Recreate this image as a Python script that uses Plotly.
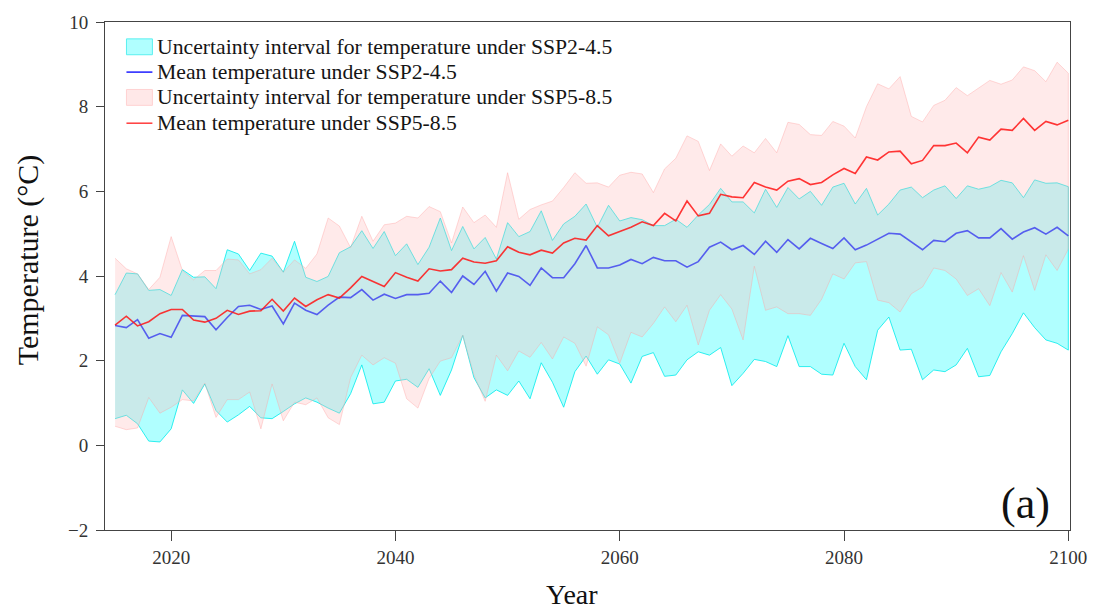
import plotly.graph_objects as go

years = list(range(2015, 2101))

ssp245_mean = [
    2.83, 2.78, 2.97, 2.53, 2.64, 2.55, 3.07, 3.06, 3.04, 2.73,
    3.02, 3.28, 3.31, 3.21, 3.29, 2.87, 3.36, 3.19, 3.09, 3.31,
    3.50, 3.49, 3.68, 3.43, 3.57, 3.47, 3.56, 3.56, 3.59, 3.88,
    3.61, 4.00, 3.80, 4.11, 3.64, 4.07, 3.99, 3.78, 4.19, 3.96,
    3.96, 4.29, 4.72, 4.19, 4.19, 4.26, 4.39, 4.29, 4.44, 4.36,
    4.36, 4.21, 4.34, 4.68, 4.80, 4.62, 4.72, 4.51, 4.82, 4.56,
    4.86, 4.64, 4.89, 4.77, 4.65, 4.90, 4.62, 4.73, 4.86, 5.01,
    4.99, 4.81, 4.62, 4.84, 4.81, 5.01, 5.07, 4.90, 4.90, 5.12,
    4.87, 5.04, 5.14, 4.99, 5.15, 4.95,
]
ssp245_upper = [
    3.56, 4.07, 4.05, 3.66, 3.68, 3.54, 4.15, 3.97, 3.98, 3.70,
    4.62, 4.52, 4.13, 4.54, 4.47, 4.09, 4.82, 3.97, 3.87, 3.99,
    4.55, 4.69, 5.07, 4.65, 5.05, 4.48, 4.76, 4.27, 4.68, 5.37,
    4.60, 5.17, 4.64, 4.91, 4.40, 5.26, 4.93, 5.05, 5.54, 4.84,
    5.23, 5.41, 5.70, 5.15, 5.67, 5.30, 5.38, 5.33, 5.19, 5.19,
    5.34, 5.15, 5.44, 5.69, 6.07, 5.75, 5.75, 5.49, 6.05, 5.62,
    6.09, 5.82, 6.00, 5.67, 6.10, 6.19, 5.70, 6.07, 5.44, 5.70,
    6.03, 6.10, 5.85, 6.03, 6.13, 5.83, 6.13, 6.05, 6.11, 6.26,
    6.20, 5.85, 6.27, 6.19, 6.20, 6.11,
]
ssp245_lower = [
    0.63, 0.71, 0.51, 0.10, 0.08, 0.39, 1.31, 0.99, 1.45, 0.82,
    0.55, 0.72, 0.92, 0.65, 0.63, 0.80, 0.98, 1.12, 1.02, 0.88,
    0.76, 1.22, 1.90, 0.98, 1.02, 1.52, 1.56, 1.37, 1.81, 1.18,
    1.78, 2.60, 1.60, 1.12, 1.31, 1.18, 1.52, 1.10, 1.95, 1.49,
    0.90, 1.74, 2.11, 1.68, 2.02, 1.92, 1.47, 2.10, 2.19, 1.63,
    1.66, 2.02, 2.21, 2.13, 2.31, 1.41, 1.70, 2.03, 1.98, 1.86,
    2.59, 1.86, 1.86, 1.68, 1.66, 2.41, 1.86, 1.55, 2.72, 3.03,
    2.25, 2.27, 1.55, 1.78, 1.74, 1.90, 2.29, 1.62, 1.65, 2.21,
    2.64, 3.13, 2.78, 2.49, 2.41, 2.25,
]
ssp585_mean = [
    2.84, 3.05, 2.82, 2.92, 3.11, 3.21, 3.21, 2.96, 2.91, 3.00,
    3.19, 3.09, 3.17, 3.18, 3.45, 3.17, 3.48, 3.28, 3.44, 3.56,
    3.48, 3.72, 3.99, 3.87, 3.75, 4.08, 3.97, 3.88, 4.17, 4.12,
    4.15, 4.42, 4.33, 4.30, 4.36, 4.69, 4.56, 4.50, 4.61, 4.54,
    4.78, 4.89, 4.85, 5.19, 4.95, 5.05, 5.15, 5.28, 5.19, 5.48,
    5.30, 5.77, 5.42, 5.48, 5.93, 5.87, 5.85, 6.21, 6.10, 6.03,
    6.24, 6.30, 6.16, 6.21, 6.39, 6.54, 6.42, 6.81, 6.74, 6.93,
    6.95, 6.65, 6.73, 7.08, 7.08, 7.14, 6.91, 7.28, 7.21, 7.47,
    7.44, 7.72, 7.44, 7.65, 7.57, 7.68,
]
ssp585_upper = [
    4.42, 4.17, 4.05, 3.68, 3.97, 4.93, 4.13, 3.91, 4.13, 4.13,
    4.40, 4.38, 4.05, 4.15, 4.42, 4.09, 4.38, 4.18, 4.52, 5.37,
    5.18, 4.67, 5.41, 4.82, 5.21, 5.25, 5.41, 5.37, 5.64, 5.52,
    4.78, 5.63, 5.26, 5.44, 5.15, 6.44, 5.34, 5.57, 5.68, 5.77,
    6.09, 6.44, 6.19, 6.20, 6.10, 6.38, 6.45, 6.41, 5.97, 6.53,
    6.78, 7.31, 7.18, 6.49, 7.12, 6.83, 7.07, 6.91, 7.25, 6.91,
    7.63, 7.58, 7.34, 7.32, 7.65, 7.54, 7.26, 8.00, 8.54, 8.42,
    8.71, 7.77, 7.64, 8.03, 8.15, 8.45, 8.26, 8.44, 8.62, 8.53,
    8.63, 8.94, 8.85, 8.59, 9.05, 8.79,
]
ssp585_lower = [
    0.45, 0.37, 0.41, 1.13, 0.76, 0.90, 1.08, 1.05, 1.47, 0.66,
    1.08, 1.08, 1.26, 0.39, 1.45, 0.58, 1.02, 0.96, 1.12, 0.65,
    0.49, 1.60, 2.13, 1.90, 2.07, 1.94, 1.10, 0.88, 1.58, 1.99,
    2.07, 2.60, 1.66, 1.04, 2.13, 1.76, 2.23, 2.08, 2.43, 2.04,
    2.56, 2.41, 1.87, 2.80, 2.61, 1.94, 2.67, 2.56, 2.88, 3.27,
    2.92, 3.31, 2.37, 3.19, 3.56, 3.22, 2.49, 4.23, 3.19, 3.27,
    3.11, 3.11, 3.07, 3.45, 4.05, 3.93, 4.31, 4.34, 3.43, 3.37,
    3.15, 3.58, 3.74, 4.19, 4.13, 3.93, 3.54, 3.70, 3.30, 4.08,
    3.62, 4.48, 3.66, 4.50, 4.13, 4.64,
]

x_ticks = [2020, 2040, 2060, 2080, 2100]
y_ticks = [-2, 0, 2, 4, 6, 8, 10]

legend_labels = [
    "Uncertainty interval for temperature under SSP2-4.5",
    "Mean temperature under SSP2-4.5",
    "Uncertainty interval for temperature under SSP5-8.5",
    "Mean temperature under SSP5-8.5",
]

FONT = "Liberation Serif, Times New Roman, serif"

# layout geometry (pixels)
W, H = 1099, 612
ML, MR, MT, MB = 105, 27, 18, 82
PW, PH = W - ML - MR, H - MT - MB


def px(xp):
    return (xp - ML) / PW


def py(yp):
    return (H - MB - yp) / PH


CYAN_FILL = "rgba(0,255,255,0.31)"
CYAN_LINE = "rgba(0,235,235,0.8)"
PINK_FILL = "rgba(255,190,190,0.32)"
PINK_LINE = "rgba(255,160,160,0.4)"
BLUE = "rgba(40,40,240,0.72)"
RED = "rgba(255,20,20,0.85)"

fig = go.Figure()
band_x = years + years[::-1]

fig.add_trace(go.Scatter(
    x=band_x, y=ssp245_upper + ssp245_lower[::-1],
    fill="toself", fillcolor=CYAN_FILL,
    line=dict(color=CYAN_LINE, width=1),
    name=legend_labels[0], mode="lines", hoverinfo="skip",
))
fig.add_trace(go.Scatter(
    x=band_x, y=ssp585_upper + ssp585_lower[::-1],
    fill="toself", fillcolor=PINK_FILL,
    line=dict(color=PINK_LINE, width=1),
    name=legend_labels[2], mode="lines", hoverinfo="skip",
))
fig.add_trace(go.Scatter(
    x=years, y=ssp245_mean, mode="lines",
    line=dict(color=BLUE, width=1.6), name=legend_labels[1],
))
fig.add_trace(go.Scatter(
    x=years, y=ssp585_mean, mode="lines",
    line=dict(color=RED, width=1.6), name=legend_labels[3],
))

# Legend drawn in paper space to match the original's compact spacing
row_y = [43, 68.5, 94, 120]
sw_x0, sw_x1 = 126.5, 152.5
shapes = [
    dict(type="rect", xref="paper", yref="paper",
         x0=px(sw_x0), x1=px(sw_x1), y0=py(row_y[0] - 8), y1=py(row_y[0] + 8),
         fillcolor="rgb(176,255,255)", line=dict(color="rgb(90,240,240)", width=1)),
    dict(type="line", xref="paper", yref="paper",
         x0=px(sw_x0), x1=px(sw_x1), y0=py(row_y[1]), y1=py(row_y[1]),
         line=dict(color="rgb(30,30,255)", width=1.5)),
    dict(type="rect", xref="paper", yref="paper",
         x0=px(sw_x0), x1=px(sw_x1), y0=py(row_y[2] - 8), y1=py(row_y[2] + 8),
         fillcolor="rgb(255,232,232)", line=dict(color="rgb(255,210,210)", width=1)),
    dict(type="line", xref="paper", yref="paper",
         x0=px(sw_x0), x1=px(sw_x1), y0=py(row_y[3]), y1=py(row_y[3]),
         line=dict(color="rgb(255,60,60)", width=1.5)),
]

annotations = []
for lbl, ry in zip(legend_labels, row_y):
    annotations.append(dict(
        text=lbl, x=px(155), y=py(ry), xref="paper", yref="paper",
        xanchor="left", yanchor="middle", showarrow=False,
        font=dict(family=FONT, size=21.7, color="#151515"),
    ))
annotations += [
    dict(text="(a)", x=px(1027.5), y=py(503), xref="paper", yref="paper",
         xanchor="center", yanchor="middle", showarrow=False,
         font=dict(family=FONT, size=44, color="#111")),
    dict(text="Year", x=px(572.5), y=py(595), xref="paper", yref="paper",
         xanchor="center", yanchor="middle", showarrow=False,
         font=dict(family=FONT, size=28, color="#111")),
    dict(text="Temperature (°C)", x=px(28), y=py(258), xref="paper", yref="paper",
         xanchor="center", yanchor="middle", showarrow=False, textangle=-90,
         font=dict(family=FONT, size=30, color="#111")),
]

fig.update_layout(
    width=W, height=H,
    margin=dict(l=ML, r=MR, t=MT, b=MB),
    paper_bgcolor="white", plot_bgcolor="white",
    font=dict(family=FONT, color="#222", size=19),
    showlegend=False,
    xaxis=dict(
        range=[2014.1, 2100.15], tickvals=x_ticks,
        ticks="outside", ticklen=10, tickcolor="#444", tickwidth=1,
        showline=True, linecolor="#444", linewidth=1, mirror=True,
        showgrid=False, zeroline=False,
        tickfont=dict(family=FONT, size=19, color="#333"),
    ),
    yaxis=dict(
        range=[-2, 10], tickvals=y_ticks,
        ticks="outside", ticklen=8, tickcolor="#444", tickwidth=1,
        showline=True, linecolor="#444", linewidth=1, mirror=True,
        showgrid=False, zeroline=False,
        tickfont=dict(family=FONT, size=19, color="#333"),
        ticklabelstandoff=4,
    ),
    shapes=shapes,
    annotations=annotations,
)

fig.write_html("out.html")
